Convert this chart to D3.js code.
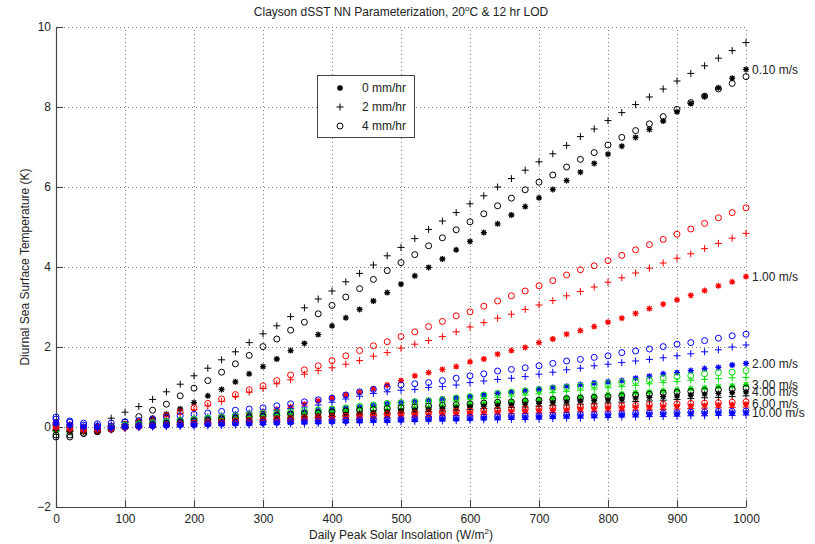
<!DOCTYPE html>
<html>
<head>
<meta charset="utf-8">
<script src="https://cdn.jsdelivr.net/npm/d3@7"></script>
<style>
  body { margin: 0; background: #fff; }
  svg { display: block; }
  text { font-family: "Liberation Sans", Arial, Helvetica, sans-serif; fill: #222; }
</style>
</head>
<body>
<svg id="chart" width="815" height="544"></svg>
<script>
// Daily peak solar insolation (W/m^2) at which the parameterization is evaluated
const insolation = [0,20,40,60,80,100,120,140,160,180,200,220,240,260,280,300,320,340,360,380,400,
  420,440,460,480,500,520,540,560,580,600,620,640,660,680,700,720,740,760,780,800,
  820,840,860,880,900,920,940,960,980,1000];

const xTicks = [0,100,200,300,400,500,600,700,800,900,1000];
const yTicks = [-2,0,2,4,6,8,10];

const windLabels = ["0.10 m/s","1.00 m/s","2.00 m/s","3.00 m/s","4.00 m/s","6.00 m/s","10.00 m/s"];
const rainLabels = ["0 mm/hr","2 mm/hr","4 mm/hr"];

// Diurnal SST warming (K); one array per wind speed and rain rate
const dsstW010R0 = [0.00,-0.05,-0.05,0.00,0.03,0.08,0.14,0.22,0.32,0.45,0.61,0.78,0.94,1.13,1.33,1.51,1.70,1.91,2.09,2.31,2.53,2.73,2.94,3.15,3.36,3.57,3.78,3.99,4.20,4.43,4.64,4.86,5.08,5.30,5.51,5.73,5.94,6.16,6.37,6.59,6.82,7.02,7.24,7.44,7.65,7.88,8.09,8.27,8.48,8.72,8.94];
const dsstW010R2 = [-0.10,-0.10,-0.05,0.05,0.22,0.37,0.51,0.69,0.88,1.07,1.28,1.47,1.68,1.88,2.11,2.33,2.53,2.76,2.98,3.20,3.40,3.63,3.84,4.05,4.28,4.49,4.71,4.94,5.15,5.36,5.58,5.78,6.00,6.21,6.42,6.63,6.83,7.04,7.26,7.45,7.66,7.86,8.06,8.25,8.45,8.65,8.84,9.03,9.22,9.41,9.61];
const dsstW010R4 = [-0.25,-0.25,-0.16,-0.10,0.00,0.12,0.26,0.42,0.57,0.78,0.97,1.16,1.37,1.58,1.79,2.01,2.20,2.42,2.62,2.83,3.04,3.25,3.46,3.69,3.91,4.11,4.31,4.53,4.73,4.93,5.13,5.33,5.53,5.72,5.93,6.12,6.30,6.50,6.69,6.86,7.05,7.24,7.41,7.58,7.76,7.94,8.11,8.27,8.45,8.59,8.76];

const dsstW100R0 = [0.05,0.00,-0.02,0.00,0.02,0.05,0.08,0.10,0.13,0.16,0.18,0.21,0.25,0.29,0.33,0.38,0.44,0.50,0.57,0.65,0.73,0.80,0.87,0.95,1.05,1.16,1.28,1.36,1.44,1.51,1.63,1.70,1.82,1.91,1.99,2.11,2.20,2.32,2.41,2.51,2.62,2.72,2.84,2.96,3.07,3.18,3.29,3.41,3.53,3.63,3.76];
const dsstW100R2 = [0.00,-0.05,-0.05,-0.02,0.02,0.06,0.12,0.18,0.26,0.34,0.43,0.53,0.64,0.76,0.87,0.96,1.08,1.18,1.32,1.41,1.48,1.57,1.66,1.77,1.86,1.97,2.07,2.16,2.26,2.38,2.50,2.61,2.72,2.82,2.94,3.05,3.16,3.28,3.39,3.50,3.62,3.73,3.85,3.97,4.10,4.22,4.33,4.46,4.59,4.72,4.84];
const dsstW100R4 = [0.10,0.05,0.00,0.00,0.02,0.07,0.13,0.20,0.28,0.38,0.48,0.59,0.70,0.81,0.93,1.03,1.16,1.30,1.43,1.53,1.66,1.78,1.91,2.03,2.13,2.26,2.38,2.51,2.64,2.78,2.88,3.02,3.15,3.28,3.40,3.53,3.66,3.80,3.93,4.03,4.16,4.29,4.43,4.56,4.69,4.82,4.95,5.09,5.23,5.36,5.48];

const dsstW200R0 = [0.05,0.00,0.00,0.00,0.02,0.05,0.07,0.09,0.11,0.13,0.16,0.18,0.21,0.23,0.26,0.29,0.32,0.35,0.38,0.41,0.44,0.47,0.50,0.54,0.58,0.61,0.64,0.67,0.70,0.73,0.76,0.80,0.84,0.87,0.91,0.95,0.99,1.02,1.06,1.10,1.13,1.16,1.22,1.27,1.33,1.36,1.41,1.46,1.49,1.55,1.59];
const dsstW200R2 = [0.10,0.05,0.02,0.02,0.04,0.06,0.09,0.12,0.15,0.18,0.22,0.25,0.28,0.31,0.35,0.38,0.42,0.46,0.50,0.55,0.62,0.70,0.77,0.84,0.88,0.92,0.94,0.99,1.01,1.05,1.11,1.15,1.19,1.22,1.26,1.32,1.37,1.43,1.47,1.53,1.57,1.61,1.65,1.69,1.73,1.78,1.83,1.88,1.93,2.00,2.05];
const dsstW200R4 = [0.25,0.15,0.10,0.08,0.10,0.13,0.16,0.20,0.24,0.28,0.32,0.35,0.39,0.42,0.45,0.48,0.53,0.58,0.63,0.68,0.72,0.80,0.88,0.94,0.99,1.05,1.08,1.11,1.16,1.22,1.28,1.33,1.40,1.44,1.48,1.53,1.59,1.65,1.69,1.74,1.78,1.86,1.90,1.95,2.01,2.07,2.11,2.16,2.22,2.28,2.32];

const dsstW300R0 = [-0.10,-0.12,-0.10,-0.06,-0.02,0.01,0.03,0.05,0.07,0.09,0.11,0.13,0.15,0.17,0.19,0.21,0.23,0.25,0.27,0.29,0.31,0.34,0.36,0.38,0.41,0.43,0.46,0.48,0.51,0.53,0.56,0.58,0.61,0.63,0.66,0.68,0.71,0.73,0.76,0.78,0.81,0.83,0.86,0.88,0.91,0.93,0.96,0.98,1.01,1.03,1.06];
const dsstW300R2 = [-0.05,-0.08,-0.08,-0.06,-0.02,0.02,0.05,0.08,0.10,0.13,0.16,0.18,0.21,0.23,0.26,0.28,0.31,0.33,0.35,0.38,0.40,0.43,0.46,0.49,0.52,0.54,0.57,0.59,0.62,0.65,0.68,0.71,0.74,0.77,0.80,0.83,0.86,0.89,0.92,0.95,0.98,1.01,1.04,1.08,1.11,1.14,1.17,1.19,1.21,1.23,1.24];
const dsstW300R4 = [0.05,0.00,-0.05,-0.05,0.00,0.05,0.08,0.11,0.14,0.17,0.20,0.22,0.25,0.28,0.31,0.34,0.36,0.38,0.41,0.43,0.45,0.48,0.52,0.55,0.59,0.61,0.63,0.65,0.68,0.72,0.76,0.80,0.84,0.87,0.90,0.93,0.96,0.99,1.02,1.05,1.08,1.11,1.14,1.18,1.22,1.26,1.28,1.33,1.36,1.37,1.41];

const dsstW400R0 = [-0.05,-0.10,-0.12,-0.10,-0.06,-0.02,0.01,0.04,0.06,0.08,0.10,0.12,0.14,0.16,0.18,0.20,0.22,0.24,0.26,0.28,0.30,0.32,0.34,0.36,0.38,0.40,0.42,0.44,0.46,0.48,0.50,0.52,0.54,0.55,0.57,0.59,0.61,0.63,0.65,0.66,0.68,0.70,0.72,0.74,0.76,0.78,0.80,0.82,0.84,0.86,0.88];
const dsstW400R2 = [-0.08,-0.12,-0.12,-0.10,-0.07,-0.03,0.00,0.02,0.04,0.06,0.08,0.10,0.12,0.13,0.15,0.17,0.19,0.21,0.22,0.24,0.26,0.28,0.30,0.31,0.33,0.35,0.37,0.39,0.40,0.42,0.44,0.46,0.47,0.49,0.50,0.52,0.54,0.55,0.57,0.58,0.60,0.62,0.64,0.65,0.67,0.69,0.71,0.73,0.74,0.76,0.78];
const dsstW400R4 = [-0.20,-0.20,-0.16,-0.12,-0.06,0.00,0.03,0.06,0.09,0.12,0.15,0.17,0.20,0.22,0.25,0.27,0.29,0.32,0.34,0.36,0.38,0.40,0.42,0.44,0.46,0.48,0.50,0.52,0.54,0.56,0.58,0.60,0.62,0.63,0.65,0.67,0.69,0.71,0.72,0.74,0.76,0.78,0.80,0.82,0.85,0.87,0.89,0.91,0.93,0.95,0.97];

const dsstW600R0 = [0.00,-0.05,-0.08,-0.08,-0.05,-0.02,0.00,0.02,0.04,0.05,0.07,0.09,0.10,0.12,0.13,0.15,0.16,0.18,0.19,0.21,0.22,0.23,0.25,0.26,0.28,0.29,0.30,0.31,0.33,0.34,0.35,0.36,0.37,0.39,0.40,0.41,0.42,0.43,0.45,0.46,0.47,0.48,0.49,0.50,0.51,0.52,0.53,0.54,0.55,0.56,0.57];
const dsstW600R2 = [-0.05,-0.08,-0.10,-0.09,-0.06,-0.03,-0.01,0.01,0.02,0.04,0.05,0.07,0.08,0.10,0.11,0.12,0.13,0.15,0.16,0.17,0.18,0.19,0.21,0.22,0.23,0.24,0.25,0.26,0.28,0.29,0.30,0.31,0.32,0.33,0.34,0.35,0.36,0.37,0.38,0.39,0.40,0.41,0.42,0.43,0.44,0.45,0.46,0.47,0.48,0.49,0.50];
const dsstW600R4 = [0.05,0.00,-0.05,-0.05,-0.03,0.00,0.02,0.04,0.06,0.08,0.10,0.12,0.13,0.15,0.16,0.18,0.20,0.21,0.23,0.24,0.26,0.27,0.29,0.30,0.32,0.33,0.34,0.36,0.37,0.39,0.40,0.41,0.42,0.44,0.45,0.46,0.47,0.48,0.50,0.51,0.52,0.53,0.54,0.56,0.57,0.58,0.59,0.60,0.61,0.62,0.63];

const dsstW1000R0 = [0.10,0.05,0.00,-0.02,-0.02,0.00,0.01,0.02,0.03,0.04,0.05,0.06,0.07,0.08,0.08,0.09,0.10,0.11,0.12,0.12,0.13,0.14,0.15,0.16,0.16,0.17,0.18,0.19,0.20,0.20,0.21,0.22,0.23,0.24,0.24,0.25,0.26,0.27,0.28,0.28,0.29,0.30,0.31,0.32,0.32,0.33,0.34,0.34,0.35,0.35,0.36];
const dsstW1000R2 = [0.05,0.00,-0.03,-0.04,-0.03,-0.02,-0.01,0.00,0.01,0.01,0.02,0.03,0.04,0.05,0.05,0.06,0.07,0.08,0.08,0.09,0.10,0.11,0.11,0.12,0.12,0.13,0.14,0.15,0.15,0.16,0.17,0.18,0.18,0.19,0.19,0.20,0.21,0.22,0.22,0.23,0.24,0.25,0.25,0.26,0.26,0.27,0.28,0.28,0.29,0.29,0.30];
const dsstW1000R4 = [0.20,0.12,0.05,0.02,0.01,0.02,0.03,0.04,0.05,0.06,0.07,0.08,0.09,0.10,0.11,0.12,0.13,0.14,0.14,0.15,0.16,0.17,0.18,0.19,0.19,0.20,0.21,0.22,0.23,0.23,0.24,0.25,0.26,0.27,0.27,0.28,0.29,0.30,0.31,0.31,0.32,0.33,0.34,0.35,0.35,0.36,0.37,0.38,0.39,0.39,0.40];

// Grouped by wind speed; inner order follows rainLabels
const dsstByWind = [
  [dsstW010R0, dsstW010R2, dsstW010R4],
  [dsstW100R0, dsstW100R2, dsstW100R4],
  [dsstW200R0, dsstW200R2, dsstW200R4],
  [dsstW300R0, dsstW300R2, dsstW300R4],
  [dsstW400R0, dsstW400R2, dsstW400R4],
  [dsstW600R0, dsstW600R2, dsstW600R4],
  [dsstW1000R0, dsstW1000R2, dsstW1000R4]
];

// Styling
const windColors = ["#000000", "#ff0000", "#0000ff", "#00e000", "#000000", "#ff0000", "#0000ff"];
const rainMarkers = ["asterisk", "plus", "circle"];

const svg = d3.select("#chart");
const margin = { left: 56, right: 69, top: 27, bottom: 37 };
const W = 815, H = 544;

const x = d3.scaleLinear().domain([0, 1000]).range([margin.left, W - margin.right]);
const y = d3.scaleLinear().domain([-2, 10]).range([H - margin.bottom, margin.top]);

// Dotted grid
const grid = svg.append("g").attr("stroke", "#7a7a7a").attr("stroke-width", 1)
  .attr("stroke-dasharray", "1,3").attr("fill", "none");
grid.selectAll("line.vx").data(xTicks).join("line")
  .attr("x1", d => Math.round(x(d)) + 0.5).attr("x2", d => Math.round(x(d)) + 0.5)
  .attr("y1", y(-2)).attr("y2", y(10));
grid.selectAll("line.hy").data(yTicks).join("line")
  .attr("y1", d => Math.round(y(d)) + 0.5).attr("y2", d => Math.round(y(d)) + 0.5)
  .attr("x1", x(0)).attr("x2", x(1000));

// Axes (ticks pointing inward)
const xAxis = d3.axisBottom(x).tickValues(xTicks).tickSizeInner(-7).tickSizeOuter(0).tickPadding(7)
  .tickFormat(d3.format("d"));
const yAxis = d3.axisLeft(y).tickValues(yTicks).tickSizeInner(-7).tickSizeOuter(0).tickPadding(5)
  .tickFormat(d3.format("d"));

function styleAxis(g) {
  g.select(".domain").attr("stroke", "#444").attr("stroke-width", 1.2);
  g.selectAll(".tick line").attr("stroke", "#444").attr("stroke-width", 1.1);
  g.selectAll(".tick text").attr("font-size", 12).attr("fill", "#222")
    .attr("font-family", "\"Liberation Sans\", Arial, sans-serif");
}
svg.append("g").attr("transform", `translate(0,${y(-2)})`).call(xAxis).call(styleAxis);
svg.append("g").attr("transform", `translate(${x(0)},0)`).call(yAxis).call(styleAxis);

// Marker shapes
function markerPath(kind) {
  if (kind === "plus") return "M-3.5,0H3.5M0,-3.5V3.5";
  if (kind === "asterisk") return "M-3,0H3M0,-3V3M-2.2,-2.2L2.2,2.2M-2.2,2.2L2.2,-2.2";
  return d3.path().toString();
}

const plot = svg.append("g");
dsstByWind.forEach((runs, wi) => {
  runs.forEach((vals, ri) => {
    const pts = insolation.map((xv, k) => ({ x: xv, v: vals[k] }));
    const g = plot.append("g").attr("stroke", windColors[wi]).attr("fill", "none");
    if (rainMarkers[ri] === "circle") {
      g.selectAll("circle").data(pts).join("circle")
        .attr("cx", d => x(d.x)).attr("cy", d => y(d.v)).attr("r", 3)
        .attr("stroke-width", 1);
    } else {
      g.selectAll("path").data(pts).join("path")
        .attr("transform", d => `translate(${x(d.x)},${y(d.v)})`)
        .attr("d", markerPath(rainMarkers[ri]))
        .attr("stroke-width", rainMarkers[ri] === "asterisk" ? 1.3 : 1);
    }
  });
});

// Wind-speed labels beside the last point of each no-rain run
svg.append("g").selectAll("text").data(windLabels).join("text")
  .attr("x", x(1000) + 6)
  .attr("y", (d, i) => y(dsstByWind[i][0][insolation.length - 1]))
  .attr("dy", "0.35em")
  .attr("font-size", 12)
  .text(d => d);

// Legend
const lg = svg.append("g").attr("transform", "translate(317,75)");
lg.append("rect").attr("x", 0.5).attr("y", 0.5).attr("width", 97).attr("height", 62)
  .attr("fill", "#fff").attr("stroke", "#444").attr("stroke-width", 1);
rainLabels.forEach((lab, i) => {
  const cy = 13 + i * 19;
  if (rainMarkers[i] === "circle") {
    lg.append("circle").attr("cx", 23).attr("cy", cy).attr("r", 3)
      .attr("fill", "none").attr("stroke", "#000").attr("stroke-width", 1);
  } else {
    lg.append("path").attr("transform", `translate(23,${cy})`).attr("d", markerPath(rainMarkers[i]))
      .attr("fill", "none").attr("stroke", "#000").attr("stroke-width", rainMarkers[i] === "asterisk" ? 1.3 : 1);
  }
  lg.append("text").attr("x", 45).attr("y", cy).attr("dy", "0.35em").attr("font-size", 12).text(lab);
});

// Title
const title = svg.append("text").attr("x", (x(0) + x(1000)) / 2).attr("y", 16)
  .attr("text-anchor", "middle").attr("font-size", 12);
title.append("tspan").text("Clayson dSST NN Parameterization, 20");
title.append("tspan").attr("font-size", 8).attr("dy", -5).text("o");
title.append("tspan").attr("dy", 5).text("C & 12 hr LOD");

// Axis titles
const xt = svg.append("text").attr("x", (x(0) + x(1000)) / 2).attr("y", 539)
  .attr("text-anchor", "middle").attr("font-size", 12);
xt.append("tspan").text("Daily Peak Solar Insolation (W/m");
xt.append("tspan").attr("font-size", 8).attr("dy", -5).text("2");
xt.append("tspan").attr("dy", 5).text(")");

svg.append("text")
  .attr("transform", `translate(29,${(y(-2) + y(10)) / 2}) rotate(-90)`)
  .attr("text-anchor", "middle").attr("font-size", 12)
  .text("Diurnal Sea Surface Temperature (K)");
</script>
</body>
</html>
